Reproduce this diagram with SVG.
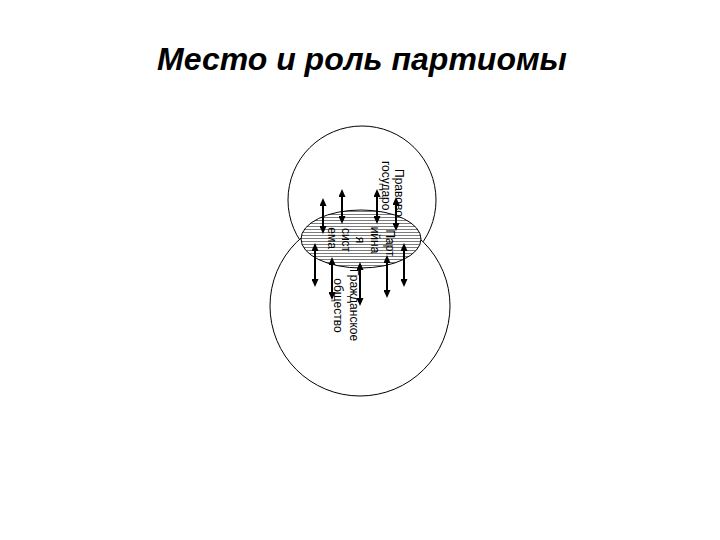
<svg xmlns="http://www.w3.org/2000/svg" width="720" height="540" viewBox="0 0 720 540">
  <style>
    .shape { fill: #ffffff; stroke: #000000; stroke-width: 1; }
    .lbl { font-family: "Liberation Sans", Arial, sans-serif; font-size: 12px; fill: #000000; dominant-baseline: central; }
    .mid { text-anchor: middle; }
    .title { font-family: "Liberation Sans", Arial, sans-serif; font-size: 32px; font-weight: bold; font-style: italic; fill: #000000; text-anchor: middle; }
    .arrow { stroke: #000000; stroke-width: 2; fill: none; marker-start: url(#head); marker-end: url(#head); }
  </style>
  <defs>
    <pattern id="hatch" patternUnits="userSpaceOnUse" width="8" height="3">
      <rect width="8" height="3" fill="#ffffff"/>
      <line x1="0" y1="1.5" x2="8" y2="1.5" stroke="#444444" stroke-width="0.7"/>
    </pattern>
    <marker id="head" markerUnits="userSpaceOnUse" markerWidth="9" markerHeight="7" refX="2" refY="3.5" orient="auto-start-reverse">
      <path d="M0,0 L8,3.5 L0,7 z" fill="#000000"/>
    </marker>
  </defs>

  <rect width="720" height="540" fill="#ffffff"/>

  <text class="title" x="362" y="70">Место и роль партиомы</text>

  <g id="node-pravovoe">
    <circle class="shape" cx="362" cy="200" r="74"/>
  </g>

  <g id="node-grazhdanskoe">
    <circle class="shape" cx="360" cy="306" r="90"/>
    <text class="lbl mid" transform="translate(354,305) rotate(90)" x="0" y="0">Гражданское</text>
    <text class="lbl mid" transform="translate(338,305.5) rotate(90)" x="0" y="0">общество</text>
  </g>

  <g id="node-partiynaya">
    <ellipse cx="361" cy="239" rx="60" ry="29" fill="url(#hatch)" stroke="#000000" stroke-width="1"/>
    <text class="lbl mid" transform="translate(390,243) rotate(90)" x="0" y="0">Парт</text>
    <text class="lbl mid" transform="translate(375,240) rotate(90)" x="0" y="0">ийна</text>
    <text class="lbl mid" transform="translate(360,240) rotate(90)" x="0" y="0">я</text>
    <text class="lbl mid" transform="translate(346,240) rotate(90)" x="0" y="0">сист</text>
    <text class="lbl mid" transform="translate(332,238) rotate(90)" x="0" y="0">ема</text>
  </g>

  <g id="label-pravovoe">
    <text class="lbl" transform="translate(399,169) rotate(90)" x="0" y="0">Правово</text>
    <text class="lbl" transform="translate(386,161) rotate(90)" x="0" y="0">государо</text>
  </g>

  <g id="connectors">
    <line class="arrow" x1="323" y1="204" x2="323" y2="228"/>
    <line class="arrow" x1="342" y1="195" x2="342" y2="218"/>
    <line class="arrow" x1="377" y1="195" x2="377" y2="218"/>
    <line class="arrow" x1="396" y1="203" x2="396" y2="225"/>
    <line class="arrow" x1="315" y1="249" x2="315" y2="281"/>
    <line class="arrow" x1="332" y1="263" x2="332" y2="294"/>
    <line class="arrow" x1="360" y1="268" x2="360" y2="300"/>
    <line class="arrow" x1="387" y1="261" x2="387" y2="292"/>
    <line class="arrow" x1="404" y1="249" x2="404" y2="281"/>
  </g>
</svg>
